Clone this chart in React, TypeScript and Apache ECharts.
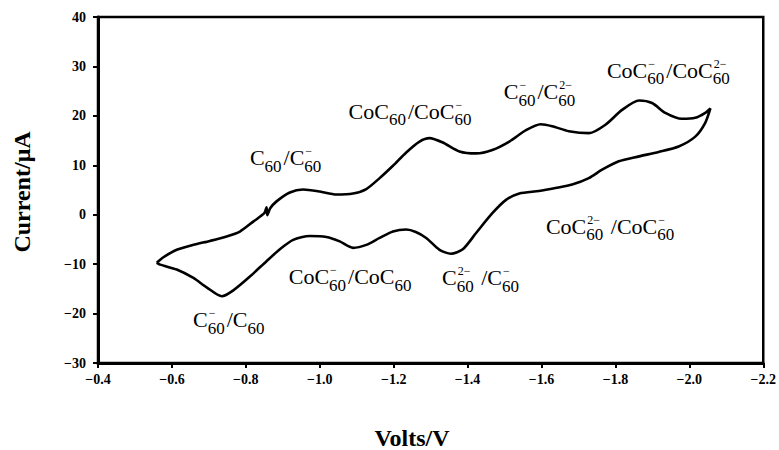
import React, { useEffect, useRef } from "react";
import * as echarts from "echarts";

// Cyclic voltammogram: one closed scan, starting at the left turning point,
// cathodic (upper) branch to -2.06 V, then anodic (lower) branch back.
const potentialV: number[] = [
  -0.559, -0.577, -0.613, -0.658, -0.703, -0.748, -0.784, -0.82, -0.85, -0.856, -0.858, -0.866,
  -0.883, -0.919, -0.955, -1.0, -1.045, -1.09, -1.126, -1.162, -1.198, -1.234, -1.27, -1.297,
  -1.333, -1.378, -1.423, -1.467, -1.513, -1.558, -1.598, -1.629, -1.674, -1.729, -1.773, -1.818,
  -1.864, -1.899, -1.935, -1.98, -2.016, -2.043, -2.057,
  -2.043, -2.016, -1.971, -1.917, -1.864, -1.809, -1.764, -1.728, -1.683, -1.638, -1.593, -1.54,
  -1.504, -1.467, -1.423, -1.387, -1.355, -1.324, -1.288, -1.26, -1.234, -1.198, -1.162, -1.126,
  -1.09, -1.054, -1.018, -0.973, -0.928, -0.892, -0.856, -0.811, -0.766, -0.735, -0.694,
  -0.658, -0.613, -0.568, -0.559,
];

const currentUA: number[] = [
  -9.7, -8.6, -7.1, -6.1, -5.3, -4.4, -3.4, -1.4, 0.3, 1.5, -0.1, 1.3,
  2.7, 4.5, 5.1, 4.7, 4.1, 4.3, 5.2, 7.4, 9.9, 12.6, 14.8, 15.5,
  14.6, 12.8, 12.4, 13.1, 14.8, 17.1, 18.3, 17.9, 16.9, 16.5, 18.2, 21.2,
  23.1, 22.6, 20.6, 19.4, 19.6, 20.6, 21.5,
  18.6, 15.8, 13.8, 12.7, 11.8, 10.8, 9.1, 7.4, 6.1, 5.4, 4.8, 4.3,
  3.0, 0.3, -3.7, -7.0, -7.9, -7.1, -4.7, -3.5, -3.0, -3.4, -4.7, -6.1,
  -6.7, -5.4, -4.5, -4.3, -5.1, -7.0, -9.4, -12.5, -15.3, -16.5, -14.7,
  -12.8, -11.1, -10.1, -9.7,
];

const voltTicks: number[] = [-0.4, -0.6, -0.8, -1.0, -1.2, -1.4, -1.6, -1.8, -2.0, -2.2];
const currentTicks: number[] = [-30, -20, -10, 0, 10, 20, 30, 40];

const xTitle = "Volts/V";
const yTitle = "Current/\u03bcA";

type Part = { base: string; sub?: string; sup?: string };
const M = "\u2212";
const annotationParts: Part[][] = [
  [{ base: "C", sub: "60" }, { base: "/C", sub: "60", sup: M }],
  [{ base: "C", sub: "60", sup: M }, { base: "/C", sub: "60" }],
  [{ base: "CoC", sub: "60" }, { base: "/CoC", sub: "60", sup: M }],
  [{ base: "CoC", sub: "60", sup: M }, { base: "/CoC", sub: "60" }],
  [{ base: "C", sub: "60", sup: "2" + M }, { base: " /C", sub: "60", sup: M }],
  [{ base: "C", sub: "60", sup: M }, { base: "/C", sub: "60", sup: "2" + M }],
  [{ base: "CoC", sub: "60", sup: M }, { base: "/CoC", sub: "60", sup: "2" + M }],
  [{ base: "CoC", sub: "60", sup: "2" + M }, { base: " /CoC", sub: "60", sup: M }],
];
// anchor of each annotation (left edge, middle of the capitals) in data units [V, µA]
const annotationAnchors: [number, number][] = [
  [-0.811, 11.5],
  [-0.657, -21.2],
  [-1.078, 20.9],
  [-0.916, -12.6],
  [-1.331, -12.8],
  [-1.498, 24.9],
  [-1.777, 29.2],
  [-1.612, -2.3],
];

const SERIF = '"Liberation Serif", "Times New Roman", serif';
const BASE_SIZE = 22;
const SUB_SIZE = 17;
const SUP_SIZE = 12;

const fmtMinus = (v: number, digits: number) =>
  v < 0 ? M + Math.abs(v).toFixed(digits) : v.toFixed(digits);

function measure(text: string, size: number): number {
  const c = document.createElement("canvas").getContext("2d");
  if (!c) return text.length * size * 0.5;
  c.font = `${size}px ${SERIF}`;
  return c.measureText(text).width;
}

function buildAnnotations(chart: echarts.ECharts): any[] {
  const out: any[] = [];
  annotationParts.forEach((parts, k) => {
    const p = chart.convertToPixel({ gridIndex: 0 }, annotationAnchors[k]) as number[];
    let x = p[0];
    const y = p[1];
    parts.forEach((part) => {
      out.push({
        type: "text",
        x,
        y,
        style: {
          text: part.base, fontSize: BASE_SIZE, lineHeight: BASE_SIZE, fontFamily: SERIF,
          fill: "#000", align: "left", verticalAlign: "middle",
        },
      });
      x += measure(part.base, BASE_SIZE);
      let adv = 0;
      if (part.sub) {
        out.push({
          type: "text",
          x,
          y: y + 8.5,
          style: {
            text: part.sub, fontSize: SUB_SIZE, lineHeight: 13, fontFamily: SERIF,
            fill: "#000", align: "left", verticalAlign: "middle",
          },
        });
        adv = Math.max(adv, measure(part.sub, SUB_SIZE));
      }
      if (part.sup) {
        out.push({
          type: "text",
          x: x + 1,
          y: y - 6.5,
          style: {
            text: part.sup, fontSize: SUP_SIZE, lineHeight: 10, fontFamily: SERIF,
            fill: "#000", align: "left", verticalAlign: "middle",
          },
        });
        adv = Math.max(adv, measure(part.sup, SUP_SIZE) + 1);
      }
      x += adv + 2;
    });
  });
  return out;
}

export default function App() {
  const ref = useRef<HTMLDivElement>(null);
  useEffect(() => {
    const el = ref.current;
    if (!el) return;
    const chart = echarts.init(el, null, { renderer: "svg" });
    const labelStyle = {
      color: "#000",
      fontFamily: SERIF,
      fontWeight: "bold" as const,
      fontSize: 14,
    };
    chart.setOption({
      animation: false,
      backgroundColor: "#fff",
      grid: {
        left: 98,
        right: 14,
        top: 17,
        bottom: 87,
        show: true,
        borderColor: "#000",
        borderWidth: 2.5,
        backgroundColor: "transparent",
      },
      xAxis: {
        type: "value",
        inverse: true,
        min: Math.min(...voltTicks),
        max: Math.max(...voltTicks),
        interval: 0.2,
        axisLine: { show: true, onZero: false, lineStyle: { color: "#000", width: 3 } },
        axisTick: { show: true, inside: false, length: 5, lineStyle: { color: "#000", width: 2 } },
        axisLabel: {
          ...labelStyle,
          margin: 9,
          showMinLabel: true,
          showMaxLabel: true,
          formatter: (v: number) => fmtMinus(v, 1),
        },
        splitLine: { show: false },
      },
      yAxis: {
        type: "value",
        min: Math.min(...currentTicks),
        max: Math.max(...currentTicks),
        interval: 10,
        axisLine: { show: true, onZero: false, lineStyle: { color: "#000", width: 3 } },
        axisTick: { show: true, inside: false, length: 5, lineStyle: { color: "#000", width: 2 } },
        axisLabel: {
          ...labelStyle,
          margin: 12,
          showMinLabel: true,
          showMaxLabel: true,
          formatter: (v: number) => fmtMinus(v, 0),
        },
        splitLine: { show: false },
      },
      series: [
        {
          type: "line",
          data: potentialV.map((v, i) => [v, currentUA[i]]),
          showSymbol: false,
          smooth: 0.25,
          lineStyle: { color: "#000", width: 2.6 },
          silent: true,
        },
      ],
    });
    const titles = [
      {
        type: "text",
        x: 412,
        y: 438,
        style: { text: xTitle, fontSize: 24, fontWeight: "bold", fontFamily: SERIF, fill: "#000", align: "center", verticalAlign: "middle" },
      },
      {
        type: "text",
        x: 22,
        y: 192,
        rotation: Math.PI / 2,
        style: { text: yTitle, fontSize: 24, fontWeight: "bold", fontFamily: SERIF, fill: "#000", align: "center", verticalAlign: "middle" },
      },
    ];
    chart.setOption({ graphic: [...titles, ...buildAnnotations(chart)] });
    return () => chart.dispose();
  }, []);
  return (
    <div
      ref={ref}
      style={{ position: "fixed", left: 0, top: 0, width: 779, height: 450, background: "#fff" }}
    />
  );
}
